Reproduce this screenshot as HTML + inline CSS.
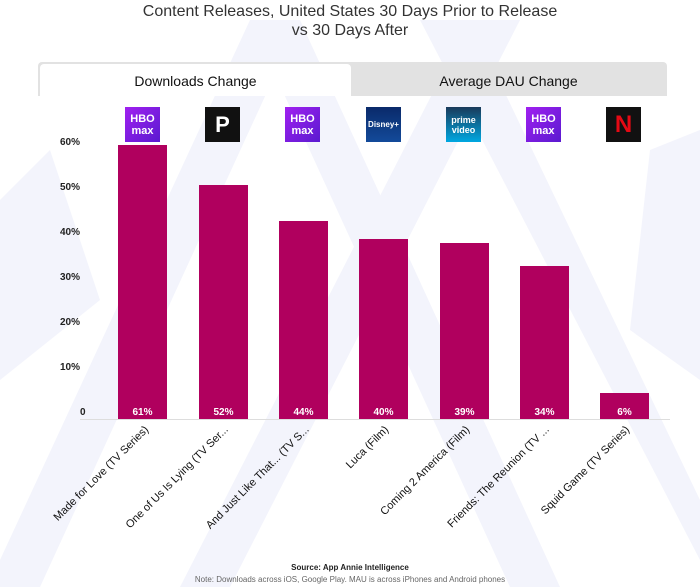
<!DOCTYPE html>
<html><head><style>
body{margin:0;width:700px;height:587px;background:#fff;font-family:"Liberation Sans",sans-serif;overflow:hidden;position:relative}
.t{position:absolute;width:700px;text-align:center;color:#333;font-size:16px}
.lbl{position:absolute;font-size:11px;color:#111;white-space:nowrap;transform-origin:right center;transform:rotate(-45deg);text-align:right}
.yl{position:absolute;left:60px;width:40px;text-align:left;font-size:10px;font-weight:bold;color:#222}
.bar{position:absolute;background:#b0005e;width:49px}
.v{position:absolute;color:#fff;font-size:10px;font-weight:bold;width:49px;text-align:center}
.ic{position:absolute;top:107px;width:35px;height:35px;color:#fff;font-weight:bold;font-size:11px;text-align:center;line-height:12px;display:flex;align-items:center;justify-content:center}
</style></head><body>
<svg width="700" height="587" style="position:absolute;left:0;top:0">
<g fill="#f3f4fc">
<polygon points="0,560 250,20 300,20 40,587 0,587"/>
<polygon points="250,20 300,20 560,587 510,587"/>
<polygon points="420,20 470,20 700,500 700,560"/>
<polygon points="470,20 520,20 230,587 180,587"/>
<polygon points="0,200 50,150 100,300 0,380"/>
<polygon points="650,150 700,130 700,380 630,330"/>
</g>
</svg>
<div class="t" style="top:3px">Content Releases, United States 30 Days Prior to Release</div>
<div class="t" style="top:22px">vs 30 Days After</div>
<div style="position:absolute;left:38px;top:62px;width:629px;height:34px;background:#e2e2e2;border-radius:4px 4px 0 0"></div>
<div style="position:absolute;left:40px;top:64px;width:311px;height:32px;background:#fff;border-radius:4px 4px 0 0;text-align:center;line-height:34px;font-size:14px;color:#111">Downloads Change</div>
<div style="position:absolute;left:351px;top:64px;width:315px;height:32px;text-align:center;line-height:34px;font-size:14px;color:#111">Average DAU Change</div>

<div class="ic" style="left:125px;background:linear-gradient(135deg,#a020f0,#5a1ad0)">HBO<br>max</div>
<div class="ic" style="left:205px;background:#111;font-size:22px">P</div>
<div class="ic" style="left:285px;background:linear-gradient(135deg,#a020f0,#5a1ad0)">HBO<br>max</div>
<div class="ic" style="left:366px;background:linear-gradient(#0a2a6a,#134a9a);font-size:8px">Disney+</div>
<div class="ic" style="left:446px;background:linear-gradient(#1a3a5a,#00a8e1);font-size:9px;line-height:10px">prime<br>video</div>
<div class="ic" style="left:526px;background:linear-gradient(135deg,#a020f0,#5a1ad0)">HBO<br>max</div>
<div class="ic" style="left:606px;background:#111;color:#e50914;font-size:24px">N</div>

<div class="yl" style="top:137px">60%</div>
<div class="yl" style="top:182px">50%</div>
<div class="yl" style="top:227px">40%</div>
<div class="yl" style="top:272px">30%</div>
<div class="yl" style="top:317px">20%</div>
<div class="yl" style="top:362px">10%</div>
<div class="yl" style="top:407px;left:80px">0</div>
<div style="position:absolute;left:80px;top:419px;width:590px;height:1px;background:#ddd"></div>

<div class="bar" style="left:118px;top:145px;height:274px"></div>
<div class="bar" style="left:199px;top:185px;height:234px"></div>
<div class="bar" style="left:279px;top:221px;height:198px"></div>
<div class="bar" style="left:359px;top:239px;height:180px"></div>
<div class="bar" style="left:440px;top:243px;height:176px"></div>
<div class="bar" style="left:520px;top:266px;height:153px"></div>
<div class="bar" style="left:600px;top:393px;height:26px"></div>
<div class="v" style="left:118px;top:407px">61%</div>
<div class="v" style="left:199px;top:407px">52%</div>
<div class="v" style="left:279px;top:407px">44%</div>
<div class="v" style="left:359px;top:407px">40%</div>
<div class="v" style="left:440px;top:407px">39%</div>
<div class="v" style="left:520px;top:407px">34%</div>
<div class="v" style="left:600px;top:407px">6%</div>

<div class="lbl" style="right:553px;top:422px">Made for Love (TV Series)</div>
<div class="lbl" style="right:473px;top:422px">One of Us Is Lying (TV Ser...</div>
<div class="lbl" style="right:393px;top:422px">And Just Like That... (TV S...</div>
<div class="lbl" style="right:313px;top:422px">Luca (Film)</div>
<div class="lbl" style="right:232px;top:422px">Coming 2 America (Film)</div>
<div class="lbl" style="right:152px;top:422px">Friends: The Reunion (TV ...</div>
<div class="lbl" style="right:72px;top:422px">Squid Game (TV Series)</div>

<div style="position:absolute;left:0;width:700px;text-align:center;top:563px;font-size:8px;font-weight:bold;color:#222">Source: App Annie Intelligence</div>
<div style="position:absolute;left:0;width:700px;text-align:center;top:575px;font-size:8px;color:#666">Note: Downloads across iOS, Google Play. MAU is across iPhones and Android phones</div>
</body></html>
